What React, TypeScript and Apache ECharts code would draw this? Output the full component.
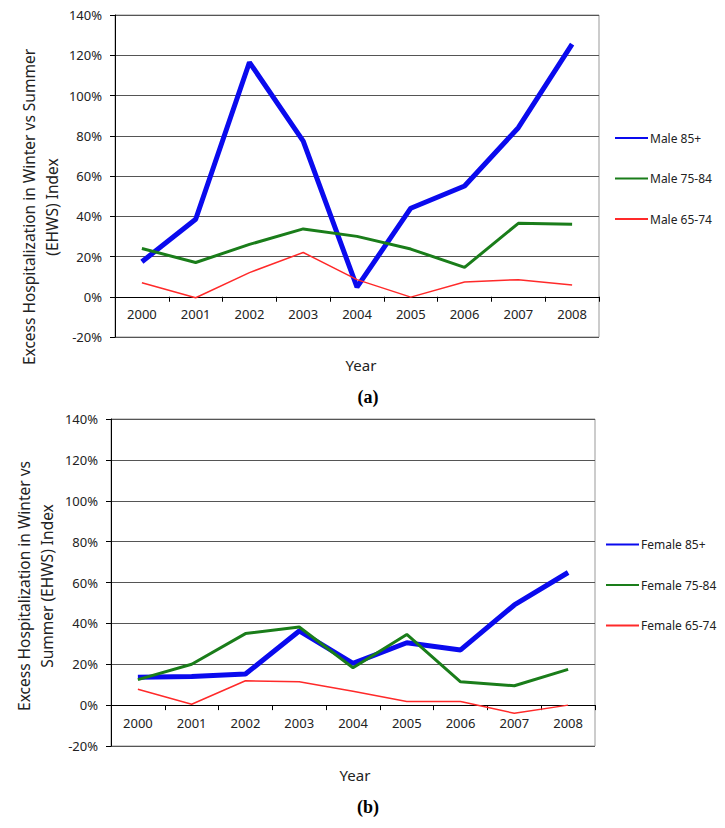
import React, { useEffect, useRef } from "react";
import * as echarts from "echarts";

const years = ["2000", "2001", "2002", "2003", "2004", "2005", "2006", "2007", "2008"];

const male85 = [17.4, 38.5, 116.5, 77.3, 4.8, 44, 55, 84, 125.5];
const male75 = [24, 17, 26, 33.7, 30, 23.7, 14.6, 36.5, 36];
const male65 = [7, -0.5, 12, 22, 8.5, -0.2, 7.3, 8.5, 5.8];

const female85 = [13.6, 14, 15.2, 36.3, 20.4, 30.5, 27, 49, 64.9];
const female75 = [12.5, 20, 35, 38.2, 18.3, 34.6, 11.4, 9.5, 17.5];
const female65 = [7.8, 0.4, 11.9, 11.4, 6.8, 1.8, 1.8, -4, 0];

const yMin = -20;
const yMax = 140;
const yStep = 20;

const FONT = "Noto Sans";
const BLUE = "#0a0aee";
const GREEN = "#1a7d1a";
const RED = "#ff2a2a";

export default function App() {
  const ref = useRef<HTMLDivElement>(null);

  useEffect(() => {
    if (!ref.current) return;
    const chart = echarts.init(ref.current, null, { renderer: "svg" });

    const grids = [
      { left: 115, top: 15, width: 484, height: 322 },
      { left: 111, top: 419, width: 484, height: 327 },
    ];

    // x axis sits at the 0% line: shift it up from the bottom by the share of the range below zero
    const xAxis = grids.map((g, i) => ({
      type: "category",
      gridIndex: i,
      data: years,
      boundaryGap: true,
      position: "bottom",
      offset: -(g.height * (0 - yMin)) / (yMax - yMin),
      axisLine: { show: true, onZero: false, lineStyle: { color: "#000", width: 1 } },
      axisTick: { show: true, length: 5, alignWithLabel: false, lineStyle: { color: "#000" } },
      axisLabel: { interval: 0, color: "#222", fontFamily: FONT, fontSize: 13, margin: 11 },
      splitLine: { show: false },
    }));

    const yAxis = grids.map((_, i) => ({
      type: "value",
      gridIndex: i,
      min: yMin,
      max: yMax,
      interval: yStep,
      axisLine: { show: true, lineStyle: { color: "#000", width: 1 } },
      axisTick: { show: true, length: 5, lineStyle: { color: "#000" } },
      axisLabel: {
        formatter: "{value}%",
        color: "#222",
        fontFamily: FONT,
        fontSize: 13,
        margin: 13,
      },
      splitLine: { show: true, lineStyle: { color: "#555", width: 1 } },
    }));

    const mk = (name: string, data: number[], color: string, width: number, idx: number) => ({
      name,
      type: "line",
      xAxisIndex: idx,
      yAxisIndex: idx,
      data,
      symbol: "none",
      showSymbol: false,
      lineStyle: { color, width },
      itemStyle: { color },
      z: width > 4 ? 3 : width > 2 ? 4 : 5,
    });

    const legendCommon = {
      orient: "vertical",
      padding: 0,
      itemWidth: 33,
      itemHeight: 14,
      itemGap: 28.5,
      itemStyle: { opacity: 0 },
      textStyle: { fontFamily: FONT, fontSize: 12, color: "#222", padding: [0, 0, 0, -3] },
    };

    chart.setOption({
      animation: false,
      backgroundColor: "#fff",
      grid: grids.map((g) => ({ ...g, show: true, borderColor: "#999", borderWidth: 1, backgroundColor: "transparent" })),
      xAxis,
      yAxis,
      legend: [
        { ...legendCommon, left: 614, top: 132, data: ["Male 85+", "Male 75-84", "Male 65-74"] },
        { ...legendCommon, left: 605, top: 538.5, data: ["Female 85+", "Female 75-84", "Female 65-74"] },
      ],
      series: [
        mk("Male 85+", male85, BLUE, 5, 0),
        mk("Male 75-84", male75, GREEN, 3, 0),
        mk("Male 65-74", male65, RED, 1.5, 0),
        mk("Female 85+", female85, BLUE, 5, 1),
        mk("Female 75-84", female75, GREEN, 3, 1),
        mk("Female 65-74", female65, RED, 1.5, 1),
      ],
      graphic: [
        {
          type: "text",
          x: 40,
          y: 207,
          rotation: Math.PI / 2,
          style: {
            text: "Excess Hospitalization in Winter vs Summer\n(EHWS) Index",
            align: "center",
            verticalAlign: "middle",
            lineHeight: 23,
            fontFamily: FONT,
            fontSize: 15.5,
            fill: "#222",
          },
        },
        {
          type: "text",
          x: 35,
          y: 586,
          rotation: Math.PI / 2,
          style: {
            text: "Excess Hospitalization in Winter vs\nSummer (EHWS) Index",
            align: "center",
            verticalAlign: "middle",
            lineHeight: 23,
            fontFamily: FONT,
            fontSize: 15.5,
            fill: "#222",
          },
        },
        {
          type: "text",
          x: 361,
          y: 365,
          style: { text: "Year", align: "center", verticalAlign: "middle", fontFamily: FONT, fontSize: 15, fill: "#222" },
        },
        {
          type: "text",
          x: 368,
          y: 397,
          style: {
            text: "(a)",
            align: "center",
            verticalAlign: "middle",
            fontFamily: "Liberation Serif",
            fontWeight: "bold",
            fontSize: 18,
            fill: "#000",
          },
        },
        {
          type: "text",
          x: 355,
          y: 775,
          style: { text: "Year", align: "center", verticalAlign: "middle", fontFamily: FONT, fontSize: 15, fill: "#222" },
        },
        {
          type: "text",
          x: 368,
          y: 807,
          style: {
            text: "(b)",
            align: "center",
            verticalAlign: "middle",
            fontFamily: "Liberation Serif",
            fontWeight: "bold",
            fontSize: 18,
            fill: "#000",
          },
        },
      ],
    });

    return () => chart.dispose();
  }, []);

  return (
    <div
      ref={ref}
      style={{ position: "fixed", left: 0, top: 0, width: 725, height: 828, background: "#fff" }}
    />
  );
}
